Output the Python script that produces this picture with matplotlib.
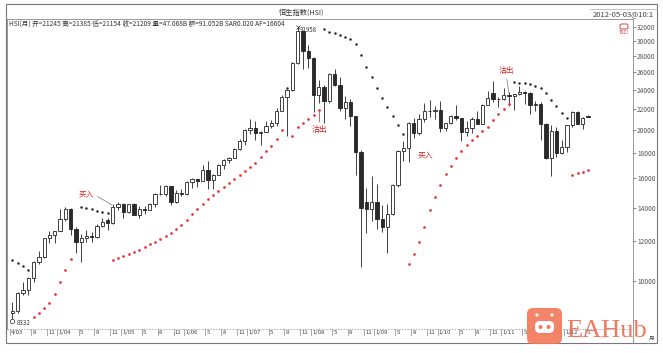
import matplotlib
matplotlib.use('Agg')
import matplotlib.pyplot as plt
from matplotlib.patches import Rectangle, FancyBboxPatch, Circle
from matplotlib.lines import Line2D
from matplotlib.transforms import IdentityTransform
import numpy as np
import pandas as pd

plt.rcParams['font.family'] = ['Noto Sans CJK SC', 'DejaVu Sans']

# monthly bars, Apr 2003 .. May 2012
months = pd.period_range('2003-04', '2012-05', freq='M')

opens = [8634, 8717, 9487, 9577, 10134, 10908, 11170, 12190, 12317,
         12576, 13289, 13908, 12682, 11942, 12198, 12286, 12239, 12850, 13250, 13054, 14060,
         14230, 13721, 14195, 13516, 13908, 13867, 14201, 14880, 14903, 15429, 14386, 14937,
         14876, 15753, 15918, 15805, 16661, 15857, 16267, 16971, 17392, 17543, 18324, 18960,
         19965, 20106, 19651, 19801, 20319, 20634, 21773, 23185, 23984, 27143, 31352, 28643,
         27813, 23456, 24332, 22849, 25755, 24533, 22102, 22731, 21261, 18016, 14338, 13888,
         14387, 13278, 12812, 13576, 15521, 18171, 18379, 20573, 19724, 20955, 21753, 21822,
         21873, 20122, 20608, 21239, 21108, 19765, 20129, 21030, 20537, 22359, 23600, 23008,
         23035, 23447, 23338, 23528, 23721, 23684, 22398, 22440, 20535, 17592, 19864, 17989,
         18434, 20390, 21680, 20556, 21245]
highs = [9091, 9517, 9932, 10167, 10941, 11493, 12194, 12594, 12594,
         13923, 14058, 13988, 12832, 12382, 12640, 12525, 12954, 13338, 13347, 14196, 14339,
         14271, 14197, 14292, 14083, 14071, 14287, 14962, 15508, 15533, 15460, 15154, 15221,
         15788, 16020, 15939, 16974, 17328, 16292, 17048, 17521, 17661, 18403, 19186, 20049,
         20971, 20842, 19892, 20765, 20920, 22085, 23472, 24000, 27254, 31958, 31498, 29512,
         27853, 25054, 24500, 25913, 26387, 25456, 23369, 23008, 21263, 18180, 15317, 16169,
         15616, 14180, 14216, 15601, 18224, 18951, 20672, 21130, 21513, 22620, 22943, 22299,
         22772, 20638, 21340, 22388, 21138, 20804, 21178, 21757, 22507, 23899, 24988, 23268,
         24153, 23763, 23528, 24468, 23893, 23707, 22835, 22708, 20633, 20430, 20223, 19051,
         20422, 21760, 21765, 21226, 21385]
lows = [8332, 8620, 9371, 9360, 9950, 10797, 11130, 11897, 11924,
        12570, 13166, 12326, 11378, 10917, 11956, 11962, 12160, 12785, 12616, 13006, 13813,
        13320, 13646, 13515, 13337, 13612, 13830, 14045, 14801, 14730, 14189, 14320, 14758,
        14850, 15303, 15385, 15805, 15257, 15205, 16264, 16729, 17183, 17529, 18240, 18622,
        19615, 19110, 18659, 19792, 20157, 20324, 21753, 19386, 23870, 27043, 26341, 26470,
        21709, 22608, 20572, 22584, 24392, 21773, 21001, 20377, 16283, 10676, 12431, 13178,
        12699, 12530, 11344, 13505, 15348, 17342, 17229, 19253, 19536, 20664, 21170, 21040,
        19786, 19894, 20495, 20936, 18971, 19418, 19649, 20536, 20532, 22354, 22740, 22224,
        22900, 22320, 21850, 23446, 22473, 21508, 21807, 19030, 17500, 16170, 17613, 17920,
        18056, 20249, 20526, 20084, 21154]
closes = [8717, 9487, 9577, 10134, 10908, 11170, 12190, 12317, 12576,
          13289, 13908, 12682, 11942, 12198, 12286, 12239, 12850, 13120, 13054, 14060, 14230,
          13721, 14195, 13516, 13908, 13867, 14201, 14880, 14903, 15429, 14386, 14937, 14876,
          15753, 15918, 15805, 16661, 15857, 16267, 16971, 17392, 17543, 18324, 18960, 19965,
          20106, 19651, 19801, 20319, 20634, 21773, 23185, 23984, 27143, 31352, 28643, 27813,
          23456, 24332, 22849, 25755, 24533, 22102, 22731, 21261, 18016, 13969, 13888, 14387,
          13278, 12812, 13576, 15521, 18171, 18379, 20573, 19724, 20955, 21753, 21822, 21873,
          20122, 20608, 21239, 21108, 19765, 20129, 21030, 20537, 22359, 23096, 23008, 23035,
          23447, 23338, 23528, 23721, 23684, 22398, 22440, 20535, 17592, 19864, 17989, 18434,
          20390, 21680, 20556, 21095, 21209]

# parabolic SAR (None = no dot)
sar_values = [11010, 10860, 10710, 10520,
              8490, 8630, 8830, 9030, 9410, 9970, 10520, 11070,
              None,
              14030, 13970, 13900, 13780, 13720, 13650,
              11010, 11110, 11210, 11320, 11420, 11520, 11680, 11850, 11950, 12120, 12290,
              12460, 12690, 12920, 13220, 13590, 13900, 14230, 14560, 14820, 15100, 15380,
              15660, 15950, 16250, 16550, 16880, 17190, 17670, 18130, 18550, 19160, 19960,
              24150,
              19420, 20240, 20610, 20990, 21380, 21880,
              31700, 31310, 31120, 30840, 30630, 30350, 29590, 28140, 26670, 25440, 24190,
              23110, 22180, 21280, 20420, 19600,
              10810, 11320, 11950, 12800, 13840, 14690, 15520, 16320, 16950, 17590, 18160,
              18640, 19070, 19450, 19870, 20280, 20900, 21480, 22030, 22480,
              24900, 24790, 24720, 24640, 24450, 24160, 23610, 22900, 22280, 21610, 21060,
              16250, 16370, 16490, 16600]

y_ticks = [10000, 12000, 14000, 16000, 18000, 20000, 22000, 24000, 26000, 28000, 30000, 32000]

info_text = 'HSI(月) 开=21245 高=21385 低=21154 收=21209 量=47.068B 额=91.052B SAR0.020 AF=16604'

W, H = 663, 353
fig = plt.figure(figsize=(W / 100, H / 100), dpi=100)
fig.patch.set_facecolor('white')


def fx(px):
    return px / W


def fy(py):
    return 1 - py / H


ax = fig.add_axes([fx(7), fy(329), (633 - 7) / W, (329 - 19) / H])
ax.set_yscale('log')
ax.set_xlim(-1.04, 117.5)
ax.set_ylim(8027, 33190)

x = np.arange(len(opens))
o = np.array(opens, float)
h = np.array(highs, float)
l = np.array(lows, float)
c = np.array(closes, float)
up = c >= o

ax.vlines(x, l, h, color='#222', lw=0.6, zorder=2)
lo = np.minimum(o, c)
hi = np.maximum(o, c)
ax.bar(x, hi - lo, bottom=lo, width=0.62, color=np.where(up, 'white', '#2a2a2a'),
       edgecolor='#222', linewidth=0.6, zorder=3)

sar = np.array([np.nan if v is None else v for v in sar_values], float)
ok = ~np.isnan(sar)
above = ok & (sar > c)
below = ok & (sar <= c)
ax.scatter(x[above], sar[above], s=3.2, color='#22223a', linewidths=0, zorder=4)
ax.scatter(x[below], sar[below], s=3.8, color='#e5343a', linewidths=0, zorder=4)

# extremes
ax.plot([0], [lows[0]], marker='o', ms=3.2, mfc='white', mec='#333', mew=0.5, zorder=5)
ax.text(0.85, 8250, '8332', fontsize=4.4, color='#333', va='center', ha='left')
pk = int(np.argmax(h))
ax.plot([pk], [h[pk]], marker='x', ms=3, mec='#333', mew=0.5, zorder=5)
ax.text(pk + 0.45, 31570, '%d' % h[pk], fontsize=4.4, color='#333', va='center', ha='left')

# signals
red = '#d8262a'
ax.annotate('买入', xy=(18.85, 14160), xytext=(13.9, 14890), ha='center', va='center',
            fontsize=5.6, color=red,
            arrowprops=dict(arrowstyle='-', color='#777', lw=0.5, shrinkA=1, shrinkB=0,
                            relpos=(1, 0.5)))
ax.annotate('沽出', xy=(58.1, 21700), xytext=(58.2, 19960), ha='center', va='center',
            fontsize=5.6, color=red,
            arrowprops=dict(arrowstyle='-', color=red, lw=0.5, shrinkA=1, shrinkB=0,
                            relpos=(0.5, 1)))
ax.text(78.1, 17800, '买入', ha='center', va='center', fontsize=5.6, color=red)
ax.annotate('沽出', xy=(94.0, 23650), xytext=(93.5, 26150), ha='center', va='center',
            fontsize=5.6, color=red,
            arrowprops=dict(arrowstyle='-', color='#777', lw=0.5, shrinkA=1, shrinkB=0,
                            relpos=(0.5, 0)))

# axes look
for side in ['left', 'top']:
    ax.spines[side].set_color('#888')
    ax.spines[side].set_linewidth(0.6)
ax.spines['bottom'].set_visible(False)
ax.spines['right'].set_visible(False)
ax.set_xticks([])
ax.yaxis.tick_right()
ax.set_yticks(y_ticks)
ax.set_yticklabels([str(v) for v in y_ticks])
ax.yaxis.set_minor_locator(plt.NullLocator())
ax.tick_params(axis='y', labelsize=4.8, colors='#555', length=2, width=0.5, pad=1)

# month band under the plot
band = fig.add_axes([fx(7), fy(336), (633 - 7) / W, 7 / H])
band.set_xlim(ax.get_xlim())
band.set_ylim(0, 1)
band.axis('off')
band.axhline(1, color='#888', lw=0.5, ls=(0, (2, 2)))
band.axhline(0, color='#888', lw=0.6)
for i, m in enumerate(months):
    if i == 0:
        lab = '%d/%s' % (m.month, str(m.year)[2:])
    elif m.month == 1:
        lab = '1/%s' % str(m.year)[2:]
    elif m.month in (5, 8, 11) and i >= 2:
        lab = str(m.month)
    else:
        continue
    band.axvline(i - 0.5, color='#888', lw=0.5)
    band.text(i - 0.25, 0.45, lab, fontsize=4.3, color='#444', va='center', ha='left')

# frame and header
fig.add_artist(Rectangle((fx(6), fy(343)), (657 - 6) / W, (343 - 4) / H, transform=fig.transFigure,
                         fill=False, edgecolor='#777', lw=0.8))
fig.add_artist(Line2D([fx(633), fx(633)], [fy(19), fy(343)], color='#888', lw=0.6))
fig.add_artist(Line2D([fx(590), fx(657)], [fy(9), fy(9)], color='#aaa', lw=0.5))
fig.text(fx(302), fy(13), '恒生指数(HSI)', ha='center', va='center', fontsize=5.2, color='#333')
fig.text(fx(593), fy(14), '2012-05-03@10:1', ha='left', va='center', fontsize=5.5, color='#444')
fig.text(fx(9), fy(24), info_text, ha='left', va='center', fontsize=4.75, color='#333')
fig.text(fx(624), fy(33), 'TSCI', ha='center', va='center', fontsize=3.3, color='#d8262a')
fig.add_artist(FancyBboxPatch((620, H - 29), 8, 5, boxstyle='round,pad=0,rounding_size=1.5',
                              transform=IdentityTransform(), fill=False, edgecolor='#d8262a', lw=0.6))
fig.text(fx(652), fy(338), '月', ha='center', va='center', fontsize=4, color='#333')

# site watermark
fig.add_artist(FancyBboxPatch((527, H - 344), 35, 36, boxstyle='round,pad=0,rounding_size=6',
                              transform=IdentityTransform(), facecolor='#f47a5a', edgecolor='none',
                              alpha=0.92, zorder=10))
fig.add_artist(FancyBboxPatch((535, H - 333), 19, 12, boxstyle='round,pad=0,rounding_size=5',
                              transform=IdentityTransform(), facecolor='white', edgecolor='none',
                              zorder=11))
for ex in (540.5, 548.5):
    fig.add_artist(Circle((ex, H - 327), 2, transform=IdentityTransform(), facecolor='#f47a5a',
                          edgecolor='none', zorder=12))
for ax_x in (537, 552):
    fig.add_artist(Circle((ax_x, H - 315), 1.6, transform=IdentityTransform(), facecolor='white',
                          edgecolor='none', zorder=11))
fig.text(fx(566), fy(337), 'EAHub', fontsize=19, family='Liberation Serif', color='#f26b4f',
         alpha=0.92, ha='left', va='baseline', zorder=10)

fig.savefig('out.png', dpi=100)
